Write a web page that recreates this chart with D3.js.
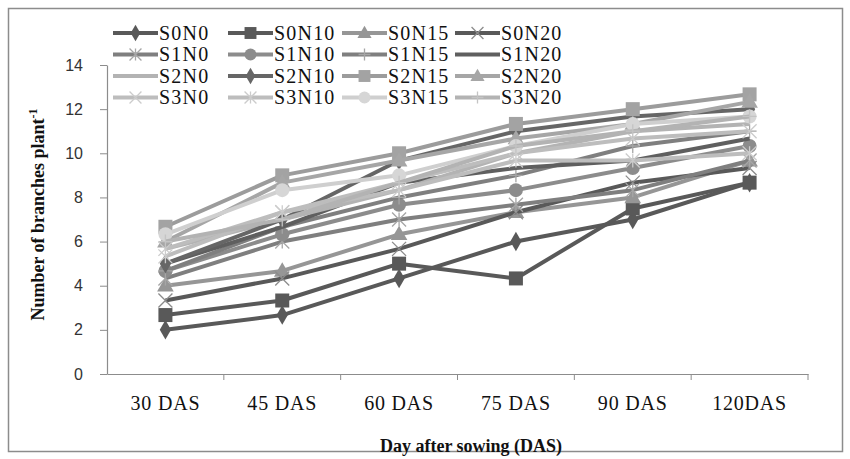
<!DOCTYPE html>
<html>
<head>
<meta charset="utf-8">
<script src="https://cdn.jsdelivr.net/npm/d3@7"></script>
<style>
  html, body { margin: 0; padding: 0; background: #fff; }
  svg { display: block; }
</style>
</head>
<body>
<div id="chart"></div>
<script>
// Sampling dates on the x axis
const categories = ["30 DAS", "45 DAS", "60 DAS", "75 DAS", "90 DAS", "120DAS"];
const yTicks = [0, 2, 4, 6, 8, 10, 12, 14];

// Treatment names (legend order)
const seriesNames = [
  "S0N0", "S0N10", "S0N15", "S0N20",
  "S1N0", "S1N10", "S1N15", "S1N20",
  "S2N0", "S2N10", "S2N15", "S2N20",
  "S3N0", "S3N10", "S3N15", "S3N20"
];

// Number of branches per plant for each treatment
const S0N0  = [2.00, 2.67, 4.33, 6.00, 7.00, 8.67];
const S0N10 = [2.67, 3.33, 5.00, 4.33, 7.50, 8.67];
const S0N15 = [4.00, 4.67, 6.33, 7.33, 8.00, 9.67];
const S0N20 = [3.33, 4.33, 5.67, 7.33, 8.67, 9.33];
const S1N0  = [4.33, 6.00, 7.00, 7.67, 8.33, 9.67];
const S1N10 = [4.67, 6.33, 7.67, 8.33, 9.33, 10.33];
const S1N15 = [4.67, 6.67, 8.00, 9.00, 10.33, 11.00];
const S1N20 = [5.00, 6.67, 8.67, 9.33, 9.67, 10.67];
const S2N0  = [5.67, 7.00, 8.33, 10.00, 11.00, 11.33];
const S2N10 = [5.00, 7.00, 9.67, 11.00, 11.67, 12.00];
const S2N15 = [6.67, 9.00, 10.00, 11.33, 12.00, 12.67];
const S2N20 = [6.00, 8.67, 9.67, 10.67, 11.33, 12.33];
const S3N0  = [5.67, 7.33, 8.67, 10.00, 10.67, 11.00];
const S3N10 = [5.33, 7.33, 8.33, 9.67, 9.67, 10.00];
const S3N15 = [6.33, 8.33, 9.00, 10.33, 11.33, 11.67];
const S3N20 = [6.00, 7.00, 8.67, 10.33, 11.00, 11.67];

const seriesValues = [
  S0N0, S0N10, S0N15, S0N20,
  S1N0, S1N10, S1N15, S1N20,
  S2N0, S2N10, S2N15, S2N20,
  S3N0, S3N10, S3N15, S3N20
];

// Grey-scale styling per treatment: line colour, marker shape, marker colour
const styles = [
  { line: "#595959", marker: "diamond",  fill: "#595959" },
  { line: "#595959", marker: "square",   fill: "#595959" },
  { line: "#969696", marker: "triangle", fill: "#969696" },
  { line: "#595959", marker: "x",        fill: "#8c8c8c" },
  { line: "#7f7f7f", marker: "star",     fill: "#a6a6a6" },
  { line: "#8c8c8c", marker: "circle",   fill: "#8c8c8c" },
  { line: "#7f7f7f", marker: "plus",     fill: "#a6a6a6" },
  { line: "#5f5f5f", marker: "none",     fill: "none" },
  { line: "#b3b3b3", marker: "none",     fill: "none" },
  { line: "#666666", marker: "diamond",  fill: "#666666" },
  { line: "#9c9c9c", marker: "square",   fill: "#a3a3a3" },
  { line: "#a6a6a6", marker: "triangle", fill: "#a6a6a6" },
  { line: "#bdbdbd", marker: "x",        fill: "#cccccc" },
  { line: "#bdbdbd", marker: "star",     fill: "#cccccc" },
  { line: "#cfcfcf", marker: "circle",   fill: "#d6d6d6" },
  { line: "#b3b3b3", marker: "plus",     fill: "#c4c4c4" }
];

const W = 850, H = 459;
const svg = d3.select("#chart").append("svg").attr("width", W).attr("height", H);

// Chart frame
svg.append("rect")
  .attr("x", 8.5).attr("y", 8.5).attr("width", 834).attr("height", 443)
  .attr("fill", "#fff").attr("stroke", "#8c8c8c").attr("stroke-width", 1.5);

const plot = { left: 107, right: 808, top: 65, bottom: 374 };

const x = d3.scaleBand().domain(categories).range([plot.left, plot.right]).padding(0);
const y = d3.scaleLinear().domain([0, 14]).range([plot.bottom, plot.top]);
const cx = d => x(d) + x.bandwidth() / 2;

// Y axis
const yAxis = svg.append("g")
  .attr("transform", `translate(${plot.left},0)`)
  .call(d3.axisLeft(y).tickValues(yTicks).tickSize(7).tickPadding(17).tickSizeOuter(0));
yAxis.select(".domain").attr("stroke", "#8c8c8c").attr("stroke-width", 1.2);
yAxis.selectAll(".tick line").attr("stroke", "#8c8c8c");
yAxis.selectAll(".tick text")
  .attr("font-family", "'Liberation Sans', Arial, sans-serif")
  .attr("font-size", 16).attr("fill", "#333");

// X axis (ticks sit between categories)
const xAxis = svg.append("g")
  .attr("transform", `translate(0,${plot.bottom})`)
  .call(d3.axisBottom(x).tickSize(0).tickPadding(22).tickSizeOuter(0));
xAxis.select(".domain").attr("stroke", "#8c8c8c").attr("stroke-width", 1.2);
xAxis.selectAll(".tick text")
  .attr("font-family", "'Liberation Serif', 'Times New Roman', serif")
  .attr("font-size", 20).attr("letter-spacing", 0.8).attr("fill", "#111");
xAxis.selectAll(".sep")
  .data(categories)
  .enter().append("line")
  .attr("class", "sep")
  .attr("x1", d => x(d) + x.bandwidth()).attr("x2", d => x(d) + x.bandwidth())
  .attr("y1", 0).attr("y2", 6)
  .attr("stroke", "#8c8c8c");

// Axis titles
const yTitle = svg.append("text")
  .attr("transform", `translate(44,${(plot.top + plot.bottom) / 2 - 5}) rotate(-90)`)
  .attr("text-anchor", "middle")
  .attr("font-family", "'Liberation Serif', 'Times New Roman', serif")
  .attr("font-weight", "bold").attr("font-size", 18).attr("fill", "#111");
yTitle.append("tspan").text("Number of branches plant");
yTitle.append("tspan").attr("dy", -7).attr("font-size", 12).text("-1");

svg.append("text")
  .attr("x", 471).attr("y", 452)
  .attr("text-anchor", "middle")
  .attr("font-family", "'Liberation Serif', 'Times New Roman', serif")
  .attr("font-weight", "bold").attr("font-size", 18).attr("fill", "#111")
  .text("Day after sowing (DAS)");

// Marker drawing
function drawMarker(g, shape, color, px, py, scale) {
  const s = scale || 1;
  if (shape === "diamond") {
    g.append("path").attr("d", d3.symbol(d3.symbolDiamond, 110 * s * s)()).attr("transform", `translate(${px},${py})`).attr("fill", color);
  } else if (shape === "square") {
    const a = 14 * s;
    g.append("rect").attr("x", px - a / 2).attr("y", py - a / 2).attr("width", a).attr("height", a).attr("fill", color);
  } else if (shape === "triangle") {
    g.append("path").attr("d", d3.symbol(d3.symbolTriangle, 120 * s * s)()).attr("transform", `translate(${px},${py + 1})`).attr("fill", color);
  } else if (shape === "circle") {
    g.append("circle").attr("cx", px).attr("cy", py).attr("r", 7 * s).attr("fill", color);
  } else if (shape === "x") {
    const a = 7 * s;
    g.append("path").attr("d", `M${px - a},${py - a}L${px + a},${py + a}M${px - a},${py + a}L${px + a},${py - a}`)
      .attr("stroke", color).attr("stroke-width", 1.3).attr("fill", "none");
  } else if (shape === "star") {
    const a = 7 * s;
    g.append("path").attr("d", `M${px - a},${py - a}L${px + a},${py + a}M${px - a},${py + a}L${px + a},${py - a}M${px},${py - a}L${px},${py + a}`)
      .attr("stroke", color).attr("stroke-width", 1.3).attr("fill", "none");
  } else if (shape === "plus") {
    const a = 7 * s;
    g.append("path").attr("d", `M${px - a},${py}L${px + a},${py}M${px},${py - a}L${px},${py + a}`)
      .attr("stroke", color).attr("stroke-width", 1.3).attr("fill", "none");
  }
}

// Series lines and markers
const line = d3.line().x((d, i) => cx(categories[i])).y(d => y(d));
seriesNames.forEach((name, k) => {
  const st = styles[k];
  const g = svg.append("g").attr("class", "series");
  g.append("path")
    .attr("d", line(seriesValues[k]))
    .attr("fill", "none").attr("stroke", st.line).attr("stroke-width", 4)
    .attr("stroke-linejoin", "round");
  seriesValues[k].forEach((v, i) => drawMarker(g, st.marker, st.fill, cx(categories[i]), y(v)));
});

// Legend: 4 columns x 4 rows
const legend = svg.append("g");
const colX = [113, 228, 342, 455];
const rowY = [33, 54.5, 76, 97.5];
seriesNames.forEach((name, k) => {
  const c = k % 4, r = Math.floor(k / 4);
  const lx = colX[c], ly = rowY[r];
  const st = styles[k];
  const g = legend.append("g");
  g.append("line").attr("x1", lx).attr("x2", lx + 45).attr("y1", ly).attr("y2", ly)
    .attr("stroke", st.line).attr("stroke-width", 4);
  drawMarker(g, st.marker, st.fill, lx + 22.5, ly, 0.85);
  g.append("text").attr("x", lx + 46).attr("y", ly + 6.5)
    .attr("font-family", "'Liberation Serif', 'Times New Roman', serif")
    .attr("font-size", 20).attr("letter-spacing", 1.2).attr("fill", "#111")
    .text(name);
});
</script>
</body>
</html>
